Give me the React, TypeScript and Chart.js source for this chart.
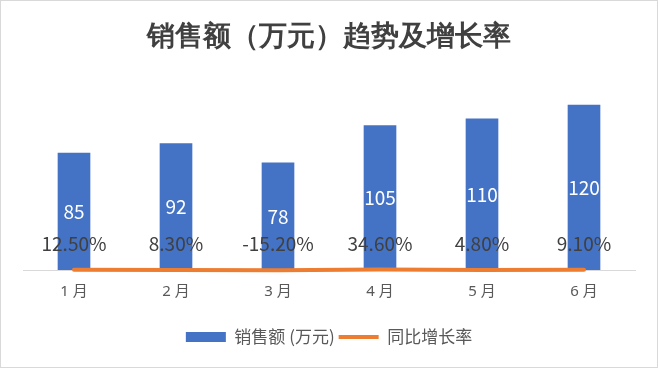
import React, { useEffect, useRef } from 'react';
import { Chart, registerables } from 'chart.js';

Chart.register(...registerables);

const chartTitle = '销售额（万元）趋势及增长率';
const categories = ['1 月', '2 月', '3 月', '4 月', '5 月', '6 月'];
const salesValues = [85, 92, 78, 105, 110, 120];
const growthRates = [0.125, 0.083, -0.152, 0.346, 0.048, 0.091];
const seriesNames = ['销售额 (万元)', '同比增长率'];

const CJK = '"Noto Sans CJK SC", "Noto Sans", sans-serif';
const LATIN_CJK = '"Noto Sans", "Noto Sans CJK SC", sans-serif';

const framePlugin = {
  id: 'frame',
  beforeDraw(chart: any) {
    const { ctx, width, height } = chart;
    ctx.save();
    ctx.fillStyle = '#ffffff';
    ctx.fillRect(0, 0, width, height);
    ctx.strokeStyle = '#d9d9d9';
    ctx.lineWidth = 1;
    ctx.strokeRect(0.5, 0.5, width - 1, height - 1);
    ctx.restore();
  },
};

const labelPlugin = {
  id: 'valueLabels',
  afterDatasetsDraw(chart: any) {
    const ctx = chart.ctx;
    ctx.save();
    ctx.textAlign = 'center';
    ctx.textBaseline = 'middle';
    ctx.font = `19px ${CJK}`;
    chart.data.datasets.forEach((ds: any, di: number) => {
      const meta = chart.getDatasetMeta(di);
      meta.data.forEach((el: any, i: number) => {
        const v = ds.data[i] as number;
        if (ds.type === 'bar') {
          ctx.fillStyle = '#ffffff';
          ctx.fillText(String(v), el.x, (el.y + el.base) / 2);
        } else {
          ctx.fillStyle = '#404040';
          ctx.fillText((v * 100).toFixed(2) + '%', el.x, el.y - 26);
        }
      });
    });
    ctx.restore();
  },
};

export default function App() {
  const ref = useRef<HTMLCanvasElement | null>(null);

  useEffect(() => {
    document.body.style.margin = '0';
    const canvas = ref.current;
    if (!canvas) return;
    const chart = new Chart(canvas, {
      type: 'bar',
      data: {
        labels: categories,
        datasets: [
          {
            type: 'line',
            label: seriesNames[1],
            data: growthRates,
            borderColor: '#ED7D31',
            backgroundColor: '#ED7D31',
            borderWidth: 4,
            borderCapStyle: 'round',
            pointRadius: 0,
            pointStyle: 'line',
            tension: 0,
            clip: false,
          } as any,
          {
            type: 'bar',
            label: seriesNames[0],
            data: salesValues,
            backgroundColor: '#4472C4',
            borderWidth: 0,
            barThickness: 32,
            pointStyle: 'rect',
          } as any,
        ],
      },
      options: {
        responsive: false,
        animation: false,
        layout: { padding: { top: 21, left: 23, right: 23, bottom: 12.5 } },
        scales: {
          x: {
            grid: { display: false, drawTicks: false },
            border: { display: true, color: '#d9d9d9', width: 1 },
            ticks: { color: '#595959', font: { size: 15, family: LATIN_CJK }, padding: 13 },
            afterFit: (scale: any) => {
              scale.height = 54.5;
            },
          },
          y: {
            display: false,
            min: 0,
            max: 140,
          },
        },
        plugins: {
          title: {
            display: true,
            text: chartTitle,
            color: '#404040',
            font: { size: 28, family: 'serif', weight: 'bold' },
            padding: { top: 0, bottom: 22.9 },
          },
          legend: {
            position: 'bottom',
            labels: {
              color: '#595959',
              font: { size: 17, family: CJK },
              usePointStyle: true,
              pointStyleWidth: 40,
              boxHeight: 10,
              padding: 4,
              sort: (a: any, b: any) => b.datasetIndex - a.datasetIndex,
            },
          },
          tooltip: { enabled: false },
        },
      },
      plugins: [framePlugin, labelPlugin],
    });
    return () => chart.destroy();
  }, []);

  return <canvas ref={ref} width={658} height={368} style={{ display: 'block' }} />;
}
